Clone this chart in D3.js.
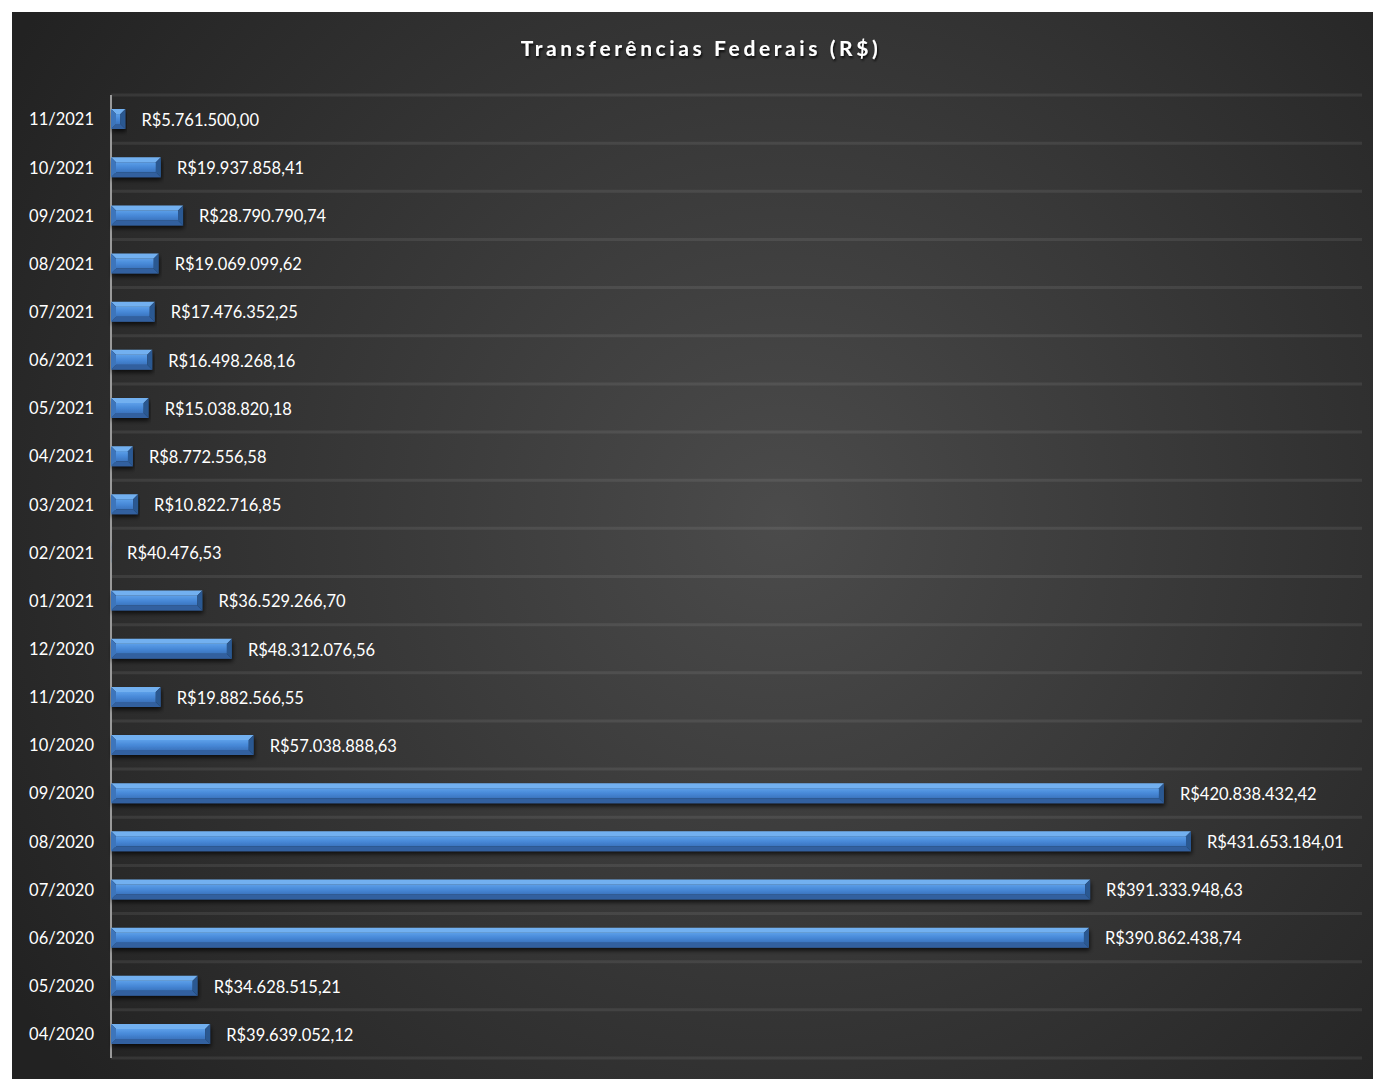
<!DOCTYPE html>
<html>
<head>
<meta charset="utf-8">
<script src="https://cdn.jsdelivr.net/npm/d3@7"></script>
<style>
  body { margin: 0; background: #fff; }
  text { font-family: Lato, "Open Sans", sans-serif; }
</style>
</head>
<body>
<div id="chart"></div>
<script>
// months, top to bottom as in the chart
var MONTHS = ["11/2021", "10/2021", "09/2021", "08/2021", "07/2021", "06/2021", "05/2021",
  "04/2021", "03/2021", "02/2021", "01/2021", "12/2020", "11/2020", "10/2020", "09/2020",
  "08/2020", "07/2020", "06/2020", "05/2020", "04/2020"];

var VALUES = [5761500.00, 19937858.41, 28790790.74, 19069099.62, 17476352.25, 16498268.16,
  15038820.18, 8772556.58, 10822716.85, 40476.53, 36529266.70, 48312076.56, 19882566.55,
  57038888.63, 420838432.42, 431653184.01, 391333948.63, 390862438.74, 34628515.21, 39639052.12];

var X_MAX = 500000000;

var W = 1373, H = 1079;
var PLOT = {left: 111, right: 1362, top: 95, bottom: 1058};

var brl = d3.formatLocale({decimal: ",", thousands: ".", grouping: [3], currency: ["R$", ""]});
var fmt = brl.format("$,.2f");

var data = MONTHS.map(function(m, i) { return {month: m, value: VALUES[i]}; });

var svg = d3.select('#chart').append('svg')
    .attr('width', W)
    .attr('height', H);

var defs = svg.append('defs');

var bg = defs.append('radialGradient')
    .attr('id', 'bg')
    .attr('gradientUnits', 'userSpaceOnUse')
    .attr('cx', 780).attr('cy', 520).attr('r', 900);
bg.append('stop').attr('offset', '0%').attr('stop-color', '#4b4b4b');
bg.append('stop').attr('offset', '100%').attr('stop-color', '#222222');

var face = defs.append('linearGradient')
    .attr('id', 'face').attr('x1', 0).attr('y1', 0).attr('x2', 0).attr('y2', 1);
face.append('stop').attr('offset', '0%').attr('stop-color', '#5c9fe9');
face.append('stop').attr('offset', '55%').attr('stop-color', '#4687d6');
face.append('stop').attr('offset', '100%').attr('stop-color', '#3b74be');

var shadow = defs.append('filter').attr('id', 'shadow')
    .attr('x', '-5%').attr('y', '-50%').attr('width', '110%').attr('height', '200%');
shadow.append('feDropShadow')
    .attr('dx', 1).attr('dy', 3).attr('stdDeviation', 2)
    .attr('flood-color', '#000').attr('flood-opacity', 0.7);

var tshadow = defs.append('filter').attr('id', 'tshadow');
tshadow.append('feDropShadow')
    .attr('dx', 1).attr('dy', 2).attr('stdDeviation', 1.2)
    .attr('flood-color', '#000').attr('flood-opacity', 0.8);

svg.append('rect')
    .attr('x', 12).attr('y', 12)
    .attr('width', W - 12).attr('height', H - 12)
    .attr('fill', 'url(#bg)');

svg.append('text')
    .attr('x', 701).attr('y', 56)
    .attr('text-anchor', 'middle')
    .attr('fill', '#fff')
    .attr('font-size', 21)
    .attr('font-weight', 'bold')
    .attr('letter-spacing', 3.6)
    .attr('filter', 'url(#tshadow)')
    .text('Transferências Federais (R$)');

var x = d3.scaleLinear().domain([0, X_MAX]).range([PLOT.left, PLOT.right]);
var y = d3.scaleBand().domain(MONTHS).range([PLOT.top, PLOT.bottom]);

// gridlines at the band edges
var edges = MONTHS.map(function(m) { return y(m); }).concat([PLOT.bottom]);
svg.append('g').selectAll('line')
    .data(edges)
    .enter()
    .append('line')
    .attr('x1', PLOT.left).attr('x2', PLOT.right)
    .attr('y1', function(d) { return d; })
    .attr('y2', function(d) { return d; })
    .style('stroke', 'rgba(255,255,255,0.08)')
    .style('stroke-width', 3);

// category axis
var yAxis = svg.append('g')
    .attr('transform', 'translate(' + PLOT.left + ',1)')
    .call(d3.axisLeft(y).tickSize(0).tickPadding(17));
yAxis.select('.domain').attr('stroke', '#9a9a9a').attr('stroke-width', 2)
    .attr('d', 'M0,' + (PLOT.top - 1) + 'V' + (PLOT.bottom - 1));
yAxis.selectAll('text')
    .attr('fill', '#fff')
    .attr('font-size', 16.5)
    .style('font-family', 'Lato, "Open Sans", sans-serif');

var BAR_H = 20, BEV = 5;

var bars = svg.append('g').selectAll('g')
    .data(data)
    .enter()
    .append('g')
    .attr('filter', 'url(#shadow)');

function facet(d, which) {
    var x0 = x(0), x1 = x(d.value);
    var y0 = y(d.month) + (y.bandwidth() - BAR_H) / 2, y1 = y0 + BAR_H;
    var b = Math.min(BEV, (x1 - x0) / 2);
    var pts;
    if (which === 'top') pts = [[x0, y0], [x1, y0], [x1 - b, y0 + BEV], [x0 + b, y0 + BEV]];
    else if (which === 'bottom') pts = [[x0, y1], [x1, y1], [x1 - b, y1 - BEV], [x0 + b, y1 - BEV]];
    else if (which === 'left') pts = [[x0, y0], [x0 + b, y0 + BEV], [x0 + b, y1 - BEV], [x0, y1]];
    else if (which === 'right') pts = [[x1, y0], [x1 - b, y0 + BEV], [x1 - b, y1 - BEV], [x1, y1]];
    else pts = [[x0 + b, y0 + BEV], [x1 - b, y0 + BEV], [x1 - b, y1 - BEV], [x0 + b, y1 - BEV]];
    return pts.map(function(p) { return p.join(','); }).join(' ');
}

var FACETS = [
    {name: 'mid', color: 'url(#face)'},
    {name: 'top', color: '#72b0f0'},
    {name: 'bottom', color: '#30609f'},
    {name: 'left', color: '#3d74bb'},
    {name: 'right', color: '#2c5891'}
];

FACETS.forEach(function(f) {
    bars.append('polygon')
        .attr('points', function(d) { return facet(d, f.name); })
        .style('fill', f.color);
});

// value labels
svg.append('g').selectAll('text')
    .data(data)
    .enter()
    .append('text')
    .attr('x', function(d) { return x(d.value) + 16; })
    .attr('y', function(d) { return y(d.month) + y.bandwidth() / 2 + 1; })
    .attr('dy', '0.35em')
    .attr('fill', '#fff')
    .attr('font-size', 16.5)
    .text(function(d) { return fmt(d.value); });
</script>
</body>
</html>
